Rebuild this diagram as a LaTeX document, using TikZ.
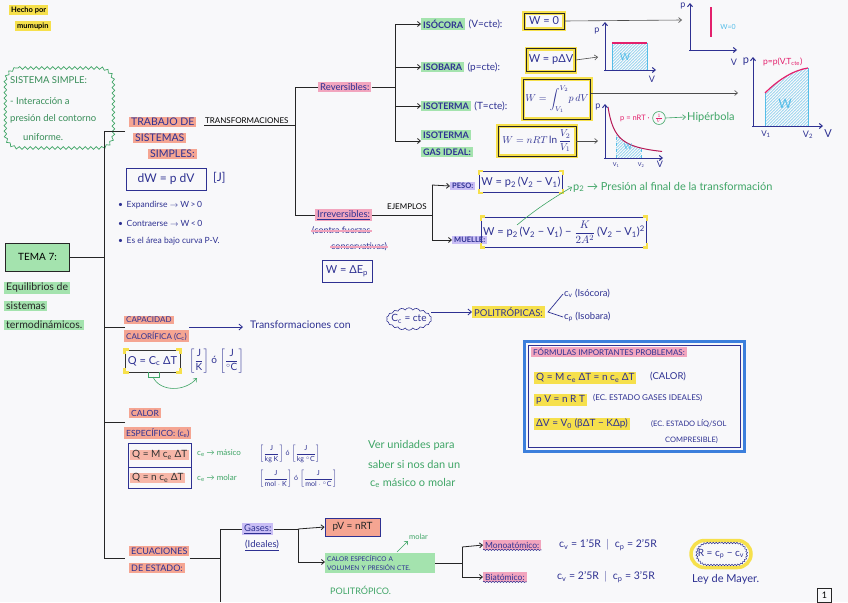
\documentclass[tikz,border=0pt]{standalone}
\usepackage{amsmath}
\usepackage{fontspec}
\setmainfont{Lato}
\usetikzlibrary{arrows.meta,patterns,decorations.pathmorphing,calc,shapes.geometric,shapes.symbols,shapes.misc}
\definecolor{ink}{HTML}{2E3192}
\definecolor{salmon}{HTML}{F5A592}
\definecolor{hlgreen}{HTML}{A4E3AE}
\definecolor{hlyellow}{HTML}{F6E04C}
\definecolor{hlpink}{HTML}{F2A5BE}
\definecolor{hllav}{HTML}{C9BEF5}
\definecolor{gtext}{HTML}{3FA566}
\definecolor{rline}{HTML}{E3206C}
\definecolor{cyanish}{HTML}{55BDE8}
\definecolor{paper}{HTML}{F8F8FA}
\definecolor{fblue}{HTML}{3C7FDC}
\newcommand\fsz[1]{\fontsize{#1}{#1}\selectfont}
\begin{document}
\begin{tikzpicture}[x=1pt,y=-1pt,
 ln/.style={black!85, line width=0.8pt},
 arr/.style={ln, -{Straight Barb[length=3pt,width=5pt]}},
 iarr/.style={ink, line width=0.8pt, -{Straight Barb[length=3.5pt,width=6pt]}},
 garr/.style={gtext, line width=0.6pt, -{Straight Barb[length=3pt,width=5pt]}},
 tx/.style={anchor=west, inner sep=1pt, text=ink, font=\fsz{8}},
 hl/.style={tx, fill=#1, inner xsep=2pt, inner ysep=1.5pt},
 gt/.style={tx, text=gtext, font=\fsz{9}},
 bx/.style={draw=ink, line width=0.8pt, text=ink, inner sep=2pt, font=\fsz{11}},
 ybx/.style={draw=black!85, line width=0.8pt, text=ink, inner sep=2pt, font=\fsz{11},
   preaction={draw=hlyellow, line width=4pt}},
 axis/.style={ink, line width=1pt, -{Straight Barb[length=3pt,width=5pt]}},
 lab/.style={text=ink, font=\fsz{9}, inner sep=0pt},
 wavy/.style={decorate, decoration={snake, amplitude=1.2pt, segment length=5pt}},
 hatch/.style={pattern=north east lines, pattern color=cyanish}
]
\fill[paper] (0,0) rectangle (848,602);

% ---------- top left
\node[hl=hlyellow, text=black, font=\fsz{7.5}\bfseries] (hecho) at (9,10) {Hecho por};
\node[hl=hlyellow, text=black, font=\fsz{7.5}\bfseries] (mumu) at (15,26) {mumupin};

\draw[gtext, line width=0.7pt, decorate, decoration={snake, amplitude=1.3pt, segment length=5.5pt}]
  (18,68) -- (98,68) arc[start angle=-90, end angle=0, radius=14]
  -- (112,134) arc[start angle=0, end angle=90, radius=14]
  -- (18,148) arc[start angle=90, end angle=180, radius=14]
  -- (4,82) arc[start angle=180, end angle=270, radius=14];
\node[tx, text=gtext!85!black, font=\fsz{9.5}] (ss1) at (9,80) {SISTEMA SIMPLE:};
\node[tx, text=gtext!85!black, font=\fsz{9.5}] (ss2) at (9,101) {- Interacción a};
\node[tx, text=gtext!85!black, font=\fsz{9.5}] (ss3) at (9,119) {presión del contorno};
\node[tx, text=gtext!85!black, font=\fsz{9.5}] (ss4) at (22,137) {uniforme.};

% ---------- tema 7
\node[draw=black!85, line width=0.8pt, fill=hlgreen, text=black, font=\fsz{10}, minimum width=64pt, minimum height=28pt] (tema) at (37.5,257) {TEMA 7:};
\node[hl=hlgreen, text=black!85, font=\fsz{10.5}] (eq1) at (4,288) {Equilibrios de};
\node[hl=hlgreen, text=black!85, font=\fsz{10.5}] (eq2) at (4,306) {sistemas};
\node[hl=hlgreen, text=black!85, font=\fsz{10.5}] (eq3) at (4,325) {termodinámicos.};

% ---------- trunk
\coordinate (trTop) at (104,131);
\coordinate (trBot) at (104,558);
\coordinate (bTrab) at (125,131);
\coordinate (bCap) at (125,327);
\coordinate (bCal) at (125,422);
\coordinate (bEcu) at (125,558);
\draw[ln] (bTrab) -- (trTop) -- (trBot) -- (bEcu);
\draw[ln] (tema.east) -- (tema.east -| trTop);
\draw[ln] (bCap) -- (bCap -| trTop);
\draw[ln] (bCal) -- (bCal -| trTop);

% ---------- trabajo
\node[hl=salmon, font=\fsz{10.5}] (trab1) at (129,122) {TRABAJO DE};
\node[hl=salmon, font=\fsz{10.5}] (trab2) at (133,138) {SISTEMAS};
\node[hl=salmon, font=\fsz{10.5}] (trab3) at (148,154) {SIMPLES:};
\node[tx, text=black, font=\fsz{8}] (transf) at (204,121) {TRANSFORMACIONES};
\node[bx, font=\fsz{12}, minimum width=80pt, minimum height=22pt] (dw) at (166,179) {dW = p dV};
\node[tx, font=\fsz{12}] (jj) at (212,178) {[J]};
\node[tx, font=\fsz{8.5}] (b1) at (117,205) {•\, Expandirse $\to$ W\,>\,0};
\node[tx, font=\fsz{8.5}] (b2) at (117,223) {•\, Contraerse $\to$ W\,<\,0};
\node[tx, font=\fsz{8.5}] (b3) at (117,241) {•\, Es el área bajo curva P-V.};

% ---------- reversibles / irreversibles
\coordinate (vR) at (295,87);
\coordinate (vI) at (295,215);
\node[hl=hlpink, font=\fsz{9.5}] (rev) at (318,87) {Reversibles:};
\node[hl=hlpink, font=\fsz{9.5}] (irr) at (315,215) {\underline{Irreversibles:}};
\node[tx, font=\fsz{9}] (contra) at (311,231) {(contra fuerzas};
\node[tx, font=\fsz{9}] (cons) at (330,247) {conservativas)};
\draw[hlpink, line width=1.5pt] (contra.west) -- (contra.east);
\draw[hlpink, line width=1.5pt] (cons.west) -- (cons.east);
\node[bx, minimum width=50pt, minimum height=22pt] (wep) at (347,271) {W = ΔE\textsubscript{p}};
\draw[ln] (transf.south west) -- (transf.south west -| vR);
\draw[ln] (rev.west) -- (vR) -- (vI) -- (irr.west);

% reversible branches
\coordinate (vRv) at (395,24);
\coordinate (vRb) at (395,141);
\draw[ln] (rev.east) -- (rev.east -| vRv);
\draw[ln] (vRv) -- (vRb);
\node[hl=hlgreen, font=\fsz{9}\bfseries] (isoc) at (421,24) {ISÓCORA};
\node[tx, font=\fsz{10}] (isocx) at ([xshift=2pt]isoc.east) {(V=cte):};
\node[hl=hlgreen, font=\fsz{9}\bfseries] (isob) at (421,67) {ISOBARA};
\node[tx, font=\fsz{10}] (isobx) at ([xshift=2pt]isob.east) {(p=cte):};
\node[hl=hlgreen, font=\fsz{9}\bfseries] (isot) at (421,106) {ISOTERMA};
\node[tx, font=\fsz{10}] (isotx) at ([xshift=2pt]isot.east) {(T=cte):};
\node[hl=hlgreen, font=\fsz{9}\bfseries] (isog1) at (421,135) {ISOTERMA};
\node[hl=hlgreen, font=\fsz{9}\bfseries] (isog2) at (421,152) {GAS IDEAL:};
\draw[arr] (vRv |- isoc.west) -- (isoc.west);
\draw[arr] (vRv |- isob.west) -- (isob.west);
\draw[arr] (vRv |- isot.west) -- (isot.west);
\draw[arr] (vRb) -- (vRb -| isog1.west);

\node[ybx, minimum width=40pt, minimum height=16pt] (w0) at (544,21) {W = 0};
\node[ybx, minimum width=46pt, minimum height=23pt] (wpv) at (551,60) {W = pΔV};
\node[ybx, minimum width=66pt, minimum height=40pt, font=\fsz{10}] (wint) at (557,99) {$W=\displaystyle\int_{V_1}^{V_2}\! p\,dV$};
\node[ybx, minimum width=78pt, minimum height=30pt, font=\fsz{10}] (wln) at (537,141) {$W=nRT\ln\dfrac{V_2}{V_1}$};

% ---------- graphs
\coordinate (gA) at (682,20);
\coordinate (gB) at (598,57);
\coordinate (gC) at (738,93);
\coordinate (gD) at (598,141);
\draw[arr, black!70, line width=0.6pt] (w0.east) -- (gA);
\draw[arr, black!70, line width=0.6pt] (wpv.east) -- (gB);
\draw[arr, black!70, line width=0.6pt] (wint.east |- gC) -- (gC);
\draw[arr, black!70, line width=0.6pt] (wln.east |- gD) -- (gD);

% isocora graph
\draw[axis] (690,51) -- (690,3);
\draw[axis] (689,50) -- (737,50);
\node[lab] (ap1) at (683,6) {p};
\node[lab] (av1) at (734,62) {V};
\draw[rline, line width=1.2pt] (711,7) -- (711,37);
\node[lab, text=cyanish, font=\fsz{7}] (w01) at (728,27) {W=0};

% isobara graph
\fill[hatch] (612,43) rectangle (647,70);
\draw[cyanish, line width=0.5pt] (612,70) -- (612,43) (647,43) -- (647,70);
\draw[rline, line width=1.2pt] (612,43) -- (647,43);
\draw[axis] (605,71) -- (605,22);
\draw[axis] (604,70) -- (656,70);
\node[lab] (ap2) at (597,31) {p};
\node[lab] (av2) at (652,79) {V};
\node[lab, text=cyanish, font=\fsz{10}] (w2) at (625,57) {W};

% gas ideal graph
\fill[hatch] (616,158) -- plot[domain=616:641, samples=30] (\x,{158-408/(\x-600)}) -- (641,158) -- cycle;
\draw[cyanish, dashed, line width=0.5pt] (616,158) -- (616,132.5) (641,158) -- (641,148);
\draw[rline!80!black, line width=1pt] plot[domain=608:662, samples=50] (\x,{158-408/(\x-600)});
\draw[axis] (605,159) -- (605,104);
\draw[axis] (604,158) -- (663,158);
\node[lab] (ap3) at (598,107) {p};
\node[lab] (av3) at (660,164) {V};
\node[lab, font=\fsz{5.5}] (v13) at (616,165) {V\textsubscript{1}};
\node[lab, font=\fsz{5.5}] (v23) at (641,165) {V\textsubscript{2}};
\node[lab, text=cyanish, font=\fsz{8}] (w3) at (628,147) {W};
\node[tx, text=rline, font=\fsz{7.5}] (pnrt) at (619,118) {p = nRT ·};
\node[draw=gtext, ellipse, line width=0.6pt, inner sep=0.5pt, text=rline, font=\fsz{6}] (inv) at (659,118) {$\frac{1}{V}$};
\node[tx, text=gtext, font=\fsz{11}] (hip) at (686,117) {Hipérbola};
\draw[garr] (inv.east) -- (hip.west);

% big isoterma graph
\fill[hatch] (765,126) -- (765,93) .. controls (780,78) and (795,70) .. (808,68) -- (808,126) -- cycle;
\draw[cyanish, line width=0.6pt] (765,126) -- (765,93) (808,68) -- (808,126);
\draw[rline, line width=1.2pt] (765,93) .. controls (780,78) and (795,70) .. (808,68);
\draw[axis] (753,127) -- (753,57);
\draw[axis] (752,126) -- (823,126);
\node[lab, font=\fsz{11}] (ap4) at (746,62) {p};
\node[lab, font=\fsz{11}] (av4) at (828,134) {V};
\node[lab, font=\fsz{8}] (v14) at (766,134) {V\textsubscript{1}};
\node[lab, font=\fsz{9}] (v24) at (808,135) {V\textsubscript{2}};
\node[lab, text=cyanish, font=\fsz{13}] (w4) at (785,104) {W};
\node[tx, text=rline, font=\fsz{8.5}] (ppv) at (762,62) {p=p(V,T\textsubscript{cte})};

% ---------- ejemplos
\coordinate (vE1) at (432,185);
\coordinate (vE2) at (432,240);
\node[tx, text=black, font=\fsz{8}] (ejem) at (386,207) {EJEMPLOS};
\draw[ln] (irr.east) -- (irr.east -| vE1);
\draw[ln] (vE1) -- (vE2);
\node[hl=hllav, font=\fsz{7.5}\bfseries] (peso) at (450,186) {PESO:};
\node[hl=hllav, font=\fsz{7.5}\bfseries] (muelle) at (452,240) {MUELLE:};
\draw[arr] (vE1) -- (peso.west);
\draw[arr] (vE2) -- (muelle.west);
\node[bx, minimum width=75pt, minimum height=21pt] (wpeso) at (521,182) {W = p\textsubscript{2}\,(V\textsubscript{2} − V\textsubscript{1})};
\node[bx, minimum width=142pt, minimum height=30pt] (wmue) at (564,232) {W = p\textsubscript{2}\,(V\textsubscript{2} − V\textsubscript{1}) − $\dfrac{K}{2A^2}$\,(V\textsubscript{2} − V\textsubscript{1})\textsuperscript{2}};
\foreach \n in {wpeso,wmue}{
 \draw[hlyellow, line width=2.5pt] ([xshift=4pt]\n.north west) -| ([yshift=-4pt]\n.north west);
 \draw[hlyellow, line width=2.5pt] ([xshift=-4pt]\n.north east) -| ([yshift=-4pt]\n.north east);
 \draw[hlyellow, line width=2.5pt] ([xshift=4pt]\n.south west) -| ([yshift=4pt]\n.south west);
 \draw[hlyellow, line width=2.5pt] ([xshift=-4pt]\n.south east) -| ([yshift=4pt]\n.south east);
}
\node[tx, text=gtext, font=\fsz{11}] (pfin) at (572,187) {p\textsubscript{2} → Presión al final de la transformación};
\draw[garr] (517,225) .. controls (535,210) and (550,200) .. (pfin.west);

% ---------- capacidad calorifica
\node[hl=salmon, font=\fsz{8}] (cap1) at (124,320) {CAPACIDAD};
\node[hl=salmon, font=\fsz{8}] (cap2) at (124,336) {CALORÍFICA (C\textsubscript{c})};
\draw[iarr] (cap2.north east |- bCap) -- (243,327);
\node[tx, font=\fsz{10.5}] (tcon) at (249,325) {Transformaciones con};
\node[cloud, cloud puffs=18, cloud puff arc=120, aspect=2.4, draw=ink, line width=0.6pt, text=ink, font=\fsz{10}, inner sep=-2pt] (cte) at (409,319) {C\textsubscript{c} = cte};
\node[hl=hlyellow, font=\fsz{9.5}] (poli) at (472,312) {POLITRÓPICAS:};
\draw[iarr] (cte.east |- poli.west) -- (poli.west);
\coordinate (lt) at (548,312);
\node[tx, font=\fsz{9.5}] (cv) at (563,294) {c\textsubscript{v} (Isócora)};
\node[tx, font=\fsz{9.5}] (cp) at (563,317) {c\textsubscript{p} (Isobara)};
\draw[ink, line width=0.7pt] (cv.west) -- (lt) -- (cp.west);
\node[draw=black!80, line width=0.8pt, text=ink, font=\fsz{11}, minimum width=55pt, minimum height=22pt, inner sep=1pt] (qc) at (152.5,361) {Q = C\textsubscript{c} ΔT};
\draw[hlyellow, line width=2.5pt] ([xshift=4pt]qc.north west) -| ([yshift=-4pt]qc.north west);
\draw[hlyellow, line width=2.5pt] ([xshift=-4pt]qc.north east) -| ([yshift=-4pt]qc.north east);
\draw[hlyellow, line width=2.5pt] ([xshift=4pt]qc.south west) -| ([yshift=4pt]qc.south west);
\draw[hlyellow, line width=2.5pt] ([xshift=-4pt]qc.south east) -| ([yshift=4pt]qc.south east);
\node[tx, font=\fsz{10}] (uc) at (188,361) {$\left[\dfrac{\text{J}}{\text{K}}\right]$ ó $\left[\dfrac{\text{J}}{{}^\circ\text{C}}\right]$};
\draw[gtext, line width=0.6pt] (148,372) -- (148,377) -- (159,377) -- (159,372);
\draw[garr] (153,377) .. controls (160,392) and (185,392) .. (197,378);

% ---------- formulas box
\draw[fblue, line width=3pt] (524,341) rectangle (744,451);
\draw[ink, line width=0.6pt] (528,345) rectangle (740,447);
\node[hl=hlpink, font=\fsz{8}] (ftit) at (531,352) {FÓRMULAS IMPORTANTES PROBLEMAS:};
\node[hl=hlyellow, font=\fsz{10}] (f1) at (534,378) {Q = M c\textsubscript{e} ΔT = n c\textsubscript{e} ΔT};
\node[tx, font=\fsz{9.5}] (f1b) at (649,377) {(CALOR)};
\node[hl=hlyellow, font=\fsz{10}] (f2) at (534,400) {p V = n R T};
\node[tx, font=\fsz{8}] (f2b) at (592,398) {(EC. ESTADO GASES IDEALES)};
\node[hl=hlyellow, font=\fsz{10}] (f3) at (534,424) {ΔV = V\textsubscript{0} (βΔT − KΔp)};
\node[tx, font=\fsz{7.5}] (f3b) at (650,424) {(EC. ESTADO LÍQ/SOL};
\node[tx, font=\fsz{7.5}] (f3c) at (664,440) {COMPRESIBLE)};

% ---------- calor especifico
\node[hl=salmon, font=\fsz{8.5}] (ce1) at (129,413) {CALOR};
\node[hl=salmon, font=\fsz{8.5}] (ce2) at (124,433) {ESPECÍFICO: (c\textsubscript{e})};
\node[tx, fill=salmon!80, font=\fsz{10}, text=black!80, inner xsep=2pt] (q1) at (130,455) {Q = M c\textsubscript{e} ΔT};
\node[tx, fill=salmon!80, font=\fsz{10}, text=black!80, inner xsep=2pt] (q2) at (130,478) {Q = n c\textsubscript{e} ΔT};
\draw[ink, line width=0.8pt] (128,443) rectangle (191,488) (128,467) -- (191,467);
\node[tx, text=gtext, font=\fsz{8}] (cm1) at (196,453) {c\textsubscript{e} → másico};
\node[tx, text=gtext, font=\fsz{8}] (cm2) at (196,478) {c\textsubscript{e} → molar};
\node[tx, font=\fsz{7}, inner sep=0pt] (u1) at (259,454) {$\left[\dfrac{\text{J}}{\text{kg K}}\right]$ ó $\left[\dfrac{\text{J}}{\text{kg }{}^\circ\text{C}}\right]$};
\node[tx, font=\fsz{7}, inner sep=0pt] (u2) at (259,479) {$\left[\dfrac{\text{J}}{\text{mol}\cdot\text{K}}\right]$ ó $\left[\dfrac{\text{J}}{\text{mol}\cdot{}^\circ\text{C}}\right]$};
\node[gt, font=\fsz{11}] (vu1) at (367,445) {Ver unidades para};
\node[gt, font=\fsz{11}] (vu2) at (367,464) {saber si nos dan un};
\node[gt, font=\fsz{11}] (vu3) at (369,483) {c\textsubscript{e} másico o molar};

% ---------- ecuaciones de estado
\node[hl=salmon, font=\fsz{9}] (ec1) at (129,551) {ECUACIONES};
\node[hl=salmon, font=\fsz{9}] (ec2) at (129,568) {DE ESTADO:};
\coordinate (vG1) at (220,529);
\coordinate (vG2) at (220,602);
\draw[ln] (ec1.east |- 0,558) -- (vG1 |- 0,558);
\draw[ln] (vG1) -- (vG2);
\node[hl=hllav, font=\fsz{9.5}] (gas) at (242,529) {\underline{Gases:}};
\node[tx, font=\fsz{9.5}] (ide) at (244,545) {\underline{(Ideales)}};
\draw[ln] (vG1) -- (gas.west);
\coordinate (vP1) at (298,529);
\coordinate (vP2) at (298,562);
\draw[ln] (gas.east) -- (vP1) -- (vP2);
\node[draw=ink, line width=0.8pt, fill=salmon, text=black!85, font=\fsz{10}, minimum width=55pt, minimum height=18pt, inner sep=1pt] (pv) at (352.5,527) {pV = nRT};
\draw[arr] (vP1) -- (pv.west);
\node[hl=hlgreen, font=\fsz{6.5}, align=left, text width=106pt, inner ysep=3pt] (cesp) at (325,563) {CALOR ESPECÍFICO A\\[2pt]VOLUMEN Y PRESIÓN CTE.};
\draw[arr] (vP2) -- (cesp.west |- vP2);
\node[tx, text=gtext, font=\fsz{9}] (polit) at (329,590) {POLITRÓPICO.};
\node[tx, text=gtext, font=\fsz{7.5}] (molar) at (408,537) {molar};
\draw[garr] (397,552) -- (molar.south west);
\coordinate (vM1) at (462,547);
\coordinate (vM2) at (462,577);
\draw[ln] (cesp.east |- 0,563) -- (vM1 |- 0,563);
\draw[ln] (vM1) -- (vM2);
\node[hl=hlpink, font=\fsz{8.5}] (mono) at (483,545) {Monoatómico:};
\node[hl=hlpink, font=\fsz{8.5}] (bia) at (483,577) {Biatómico:};
\draw[ink, line width=0.5pt, wavy, decoration={amplitude=0.7pt, segment length=3pt}] (mono.south west) -- (mono.south east);
\draw[ink, line width=0.5pt, wavy, decoration={amplitude=0.7pt, segment length=3pt}] (bia.south west) -- (bia.south east);
\draw[arr] (vM1) -- (mono.west);
\draw[arr] (vM2) -- (bia.west);
\node[tx, font=\fsz{10.5}] (cv1) at (558,545) {c\textsubscript{v} = 1'5R \ $|$ \ c\textsubscript{p} = 2'5R};
\node[tx, font=\fsz{10.5}] (cv2) at (556,577) {c\textsubscript{v} = 2'5R \ $|$ \ c\textsubscript{p} = 3'5R};
\node[rounded rectangle, draw=hlyellow, line width=3.5pt, text=ink, font=\fsz{10}, minimum width=62pt, minimum height=27pt, inner sep=1pt] (rr) at (721,554) {R = c\textsubscript{p} − c\textsubscript{v}};
\node[rounded rectangle, draw=ink, line width=0.5pt, decorate, decoration={snake, amplitude=0.8pt, segment length=3pt}, minimum width=57pt, minimum height=22pt] (rrw) at (rr.center) {};
\node[tx, font=\fsz{11}] (mayer) at (691,579) {Ley de Mayer.};
\node[draw=black!85, line width=0.7pt, text=black, font=\fsz{9}, minimum width=14pt, minimum height=14pt, inner sep=0pt] (pg) at (824.5,595) {1};
\end{tikzpicture}
\end{document}
